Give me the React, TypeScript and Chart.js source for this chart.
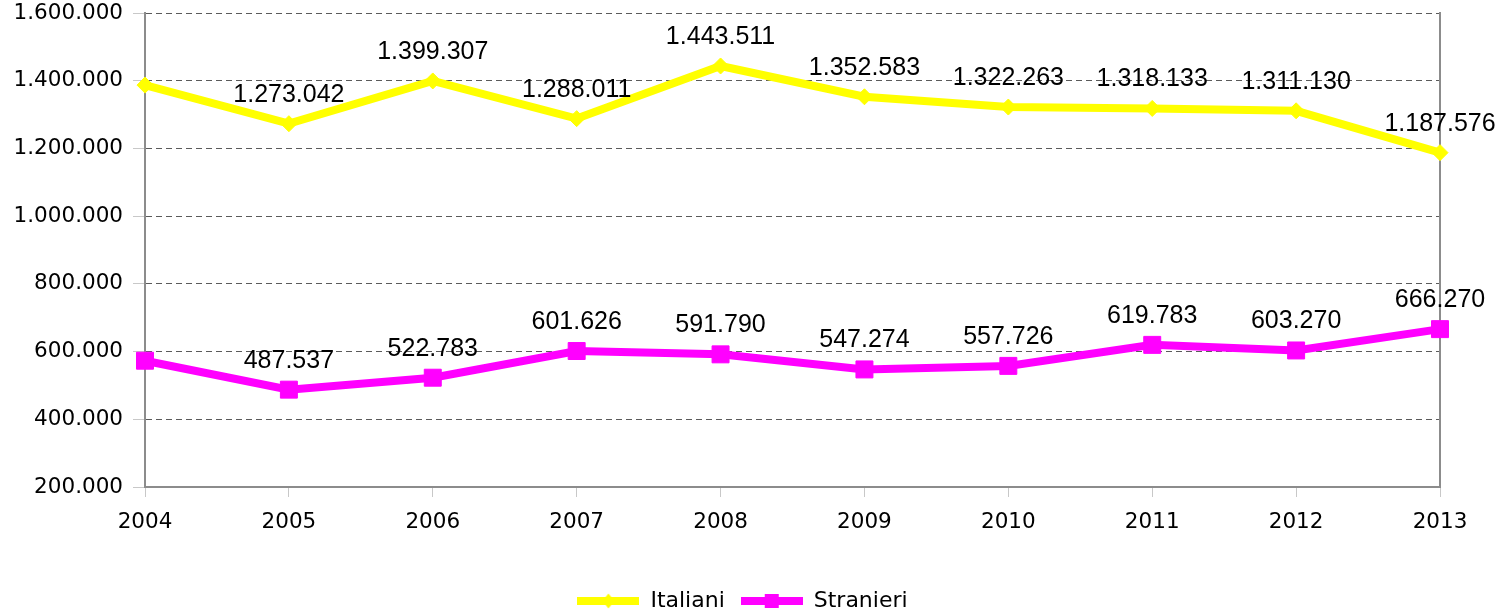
import React, { useEffect, useRef } from "react";
import { Chart, registerables } from "chart.js";

Chart.register(...registerables);

// ---- data ----
const years = ["2004", "2005", "2006", "2007", "2008", "2009", "2010", "2011", "2012", "2013"];
const italiani = [1387000, 1273042, 1399307, 1288011, 1443511, 1352583, 1322263, 1318133, 1311130, 1187576];
const stranieri = [573000, 487537, 522783, 601626, 591790, 547274, 557726, 619783, 603270, 666270];
const seriesNames = ["Italiani", "Stranieri"];
const yMin = 200000;
const yMax = 1600000;
const yStep = 200000;
const firstLabelledIndex = 1; // the 2004 values carry no value label

const YELLOW = "#FFFF00";
const MAGENTA = "#FF00FF";

function fmt(n: number): string {
  return String(Math.round(n)).replace(/\B(?=(\d{3})+(?!\d))/g, ".");
}

function legendImage(color: string, shape: "diamond" | "square"): HTMLCanvasElement {
  const c = document.createElement("canvas");
  c.width = 62;
  c.height = 20;
  const g = c.getContext("2d")!;
  g.fillStyle = color;
  g.fillRect(0, 6, 62, 8);
  g.beginPath();
  if (shape === "diamond") {
    g.moveTo(31, 2.5);
    g.lineTo(37, 10);
    g.lineTo(31, 17.5);
    g.lineTo(25, 10);
    g.closePath();
    g.fill();
  } else {
    g.fillRect(24, 3, 14, 14);
  }
  return c;
}

const valueLabels = {
  id: "valueLabels",
  afterDatasetsDraw(chart: any) {
    const ctx = chart.ctx;
    ctx.save();
    ctx.font = '25px "Liberation Sans", Arial, sans-serif';
    ctx.fillStyle = "#000000";
    ctx.textAlign = "center";
    ctx.textBaseline = "middle";
    chart.data.datasets.forEach((ds: any, di: number) => {
      const meta = chart.getDatasetMeta(di);
      meta.data.forEach((pt: any, i: number) => {
        if (i < firstLabelledIndex) return;
        ctx.fillText(fmt(ds.data[i]), pt.x, pt.y - 29);
      });
    });
    ctx.restore();
  },
};

export default function App() {
  const ref = useRef<HTMLCanvasElement | null>(null);

  useEffect(() => {
    if (!ref.current) return;
    Chart.defaults.font.family = '"DejaVu Sans", Verdana, sans-serif';
    const images = [legendImage(YELLOW, "diamond"), legendImage(MAGENTA, "square")];
    const chart = new Chart(ref.current, {
      type: "line",
      data: {
        labels: years,
        datasets: [
          {
            label: seriesNames[0],
            data: italiani,
            borderColor: YELLOW,
            backgroundColor: YELLOW,
            borderWidth: 8,
            pointStyle: "rectRot",
            pointRadius: 8,
            pointBorderWidth: 1,
            pointBackgroundColor: YELLOW,
            pointBorderColor: YELLOW,
            tension: 0,
            fill: false,
          },
          {
            label: seriesNames[1],
            data: stranieri,
            borderColor: MAGENTA,
            backgroundColor: MAGENTA,
            borderWidth: 8,
            pointStyle: "rect",
            pointRadius: 12,
            pointBorderWidth: 1,
            pointBackgroundColor: MAGENTA,
            pointBorderColor: MAGENTA,
            tension: 0,
            fill: false,
          },
        ],
      },
      options: {
        animation: false,
        responsive: true,
        maintainAspectRatio: false,
        events: [],
        layout: { padding: { top: 13, left: 0, right: 20, bottom: -6 } },
        plugins: {
          tooltip: { enabled: false },
          legend: {
            display: true,
            position: "bottom",
            labels: {
              usePointStyle: true,
              pointStyleWidth: 62,
              padding: 16,
              color: "#000000",
              font: { size: 22, family: '"DejaVu Sans", Verdana, sans-serif' },
              generateLabels: (c: any) => {
                const items = Chart.defaults.plugins.legend.labels.generateLabels(c);
                items.forEach((it: any, i: number) => {
                  it.pointStyle = images[i];
                });
                return items;
              },
            },
          },
        },
        scales: {
          x: {
            type: "category",
            offset: false,
            afterFit: (s: any) => {
              s.height = 87;
              s.paddingLeft = 0;
              s.paddingRight = 0;
            },
            grid: {
              display: true,
              drawOnChartArea: false,
              drawTicks: true,
              tickLength: 10,
              color: "#c8c8c8",
              tickColor: "#c8c8c8",
            },
            border: { display: true, color: "#8c8c8c", width: 2 },
            ticks: {
              color: "#000000",
              font: { size: 21.5 },
              padding: 13,
              maxRotation: 0,
              autoSkip: false,
            },
          },
          y: {
            type: "linear",
            position: "left",
            min: yMin,
            max: yMax,
            afterFit: (s: any) => {
              s.width = 145;
              s.paddingTop = 0;
              s.paddingBottom = 0;
            },
            grid: {
              display: true,
              color: "#5a5a5a",
              lineWidth: 1,
              tickLength: 12,
              tickColor: "#c8c8c8",
              tickBorderDash: [],
            },
            border: { display: true, color: "#8c8c8c", width: 2, dash: [6, 4] },
            ticks: {
              stepSize: yStep,
              color: "#000000",
              font: { size: 21.5 },
              padding: 10,
              callback: (v: any) => fmt(Number(v)),
            },
          },
          y2: {
            type: "linear",
            position: "right",
            afterFit: (s: any) => {
              s.width = 45;
              s.paddingTop = 0;
              s.paddingBottom = 0;
            },
            grid: { display: false },
            ticks: { display: false },
            border: { display: true, color: "#8c8c8c", width: 2 },
          },
        },
      },
      plugins: [valueLabels],
    } as any);
    return () => chart.destroy();
  }, []);

  return (
    <div style={{ position: "fixed", left: 0, top: 0, width: 1505, height: 616 }}>
      <canvas ref={ref} />
    </div>
  );
}
